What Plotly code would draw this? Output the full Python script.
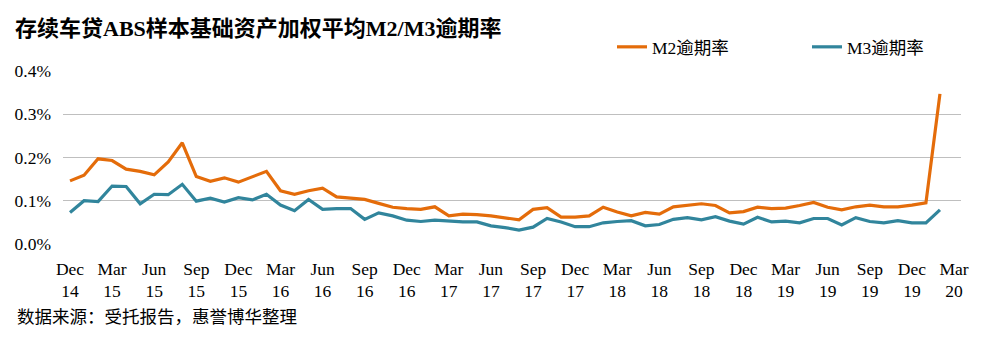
import plotly.graph_objects as go

# Monthly categories Dec 2014 .. Mar 2020 (last category carries no data)
months = []
for yr in range(2014, 2021):
    for mo in range(1, 13):
        if (yr == 2014 and mo < 12) or (yr == 2020 and mo > 3):
            continue
        months.append(f"{yr}-{mo:02d}")

m2_rate = [0.146, 0.159, 0.197, 0.193, 0.173, 0.168, 0.160, 0.190, 0.234, 0.156,
           0.145, 0.153, 0.143, 0.155, 0.168, 0.123, 0.115, 0.123, 0.129, 0.109,
           0.106, 0.103, 0.094, 0.085, 0.082, 0.080, 0.086, 0.065, 0.069, 0.068,
           0.065, 0.061, 0.056, 0.080, 0.084, 0.062, 0.062, 0.065, 0.085, 0.074,
           0.065, 0.073, 0.069, 0.086, 0.089, 0.093, 0.089, 0.072, 0.075, 0.085,
           0.082, 0.083, 0.089, 0.096, 0.085, 0.079, 0.086, 0.090, 0.086, 0.086,
           0.090, 0.095, 0.347]

m3_rate = [0.073, 0.100, 0.098, 0.134, 0.133, 0.093, 0.115, 0.114, 0.138, 0.099,
           0.106, 0.097, 0.107, 0.102, 0.115, 0.090, 0.077, 0.103, 0.080, 0.082,
           0.082, 0.057, 0.072, 0.065, 0.055, 0.052, 0.055, 0.053, 0.051, 0.051,
           0.042, 0.038, 0.032, 0.039, 0.059, 0.051, 0.040, 0.040, 0.049, 0.052,
           0.054, 0.042, 0.045, 0.057, 0.061, 0.056, 0.063, 0.053, 0.046, 0.062,
           0.051, 0.053, 0.049, 0.059, 0.059, 0.044, 0.061, 0.052, 0.049, 0.054,
           0.049, 0.049, 0.079]

month_names = {"03": "Mar", "06": "Jun", "09": "Sep", "12": "Dec"}
tick_vals = [m for m in months if m[5:] in month_names]
tick_text = [f"{month_names[m[5:]]}<br>{m[2:4]}" for m in tick_vals]

y_ticks = [0.0, 0.1, 0.2, 0.3, 0.4]
y_tick_text = ["0.0%", "0.1%", "0.2%", "0.3%", "0.4%"]

serif = "Liberation Serif, Noto Sans CJK SC, serif"

fig = go.Figure()
fig.add_trace(go.Scatter(x=months[:len(m2_rate)], y=m2_rate, mode="lines",
                         name="M2逾期率", line=dict(color="#E46C0A", width=3.2)))
fig.add_trace(go.Scatter(x=months[:len(m3_rate)], y=m3_rate, mode="lines",
                         name="M3逾期率", line=dict(color="#31859C", width=3.2)))

fig.update_layout(
    width=983, height=347,
    margin=dict(l=63, r=22, t=71, b=103, autoexpand=False),
    paper_bgcolor="white", plot_bgcolor="white",
    font=dict(family=serif, size=17.5, color="#000000"),
    title=dict(text="<b>存续车贷ABS样本基础资产加权平均M2/M3逾期率</b>",
               xref="container", yref="container", x=15/983, xanchor="left",
               y=1-28/347, yanchor="middle",
               font=dict(family=serif, size=22, color="#000000")),
    legend=dict(orientation="h", x=(612-63)/898, xanchor="left", y=1.139, yanchor="middle",
                font=dict(family=serif, size=17.5), entrywidth=150,
                bgcolor="rgba(0,0,0,0)"),
    xaxis=dict(type="category", categoryorder="array", categoryarray=months,
               range=[-0.5, len(months)-0.5], tickmode="array",
               tickvals=tick_vals, ticktext=tick_text, showgrid=False,
               showline=False, ticks="", automargin=False, ticklabelstandoff=12,
               tickfont=dict(size=17.5, family=serif)),
    yaxis=dict(range=[0, 0.4], tickmode="array", tickvals=y_ticks,
               ticktext=y_tick_text, showgrid=True, gridcolor="#BFBFBF",
               gridwidth=1, zeroline=False, showline=False, ticks="",
               automargin=False, ticklabelstandoff=11,
               tickfont=dict(size=17.5, family=serif)),
    annotations=[dict(text="数据来源：受托报告，惠誉博华整理", xref="paper", yref="paper",
                      x=(15-63)/898, y=(244-317)/173, xanchor="left", yanchor="middle",
                      showarrow=False, font=dict(family=serif, size=17.5, color="#000000"))],
)

fig.write_html("out.html")
